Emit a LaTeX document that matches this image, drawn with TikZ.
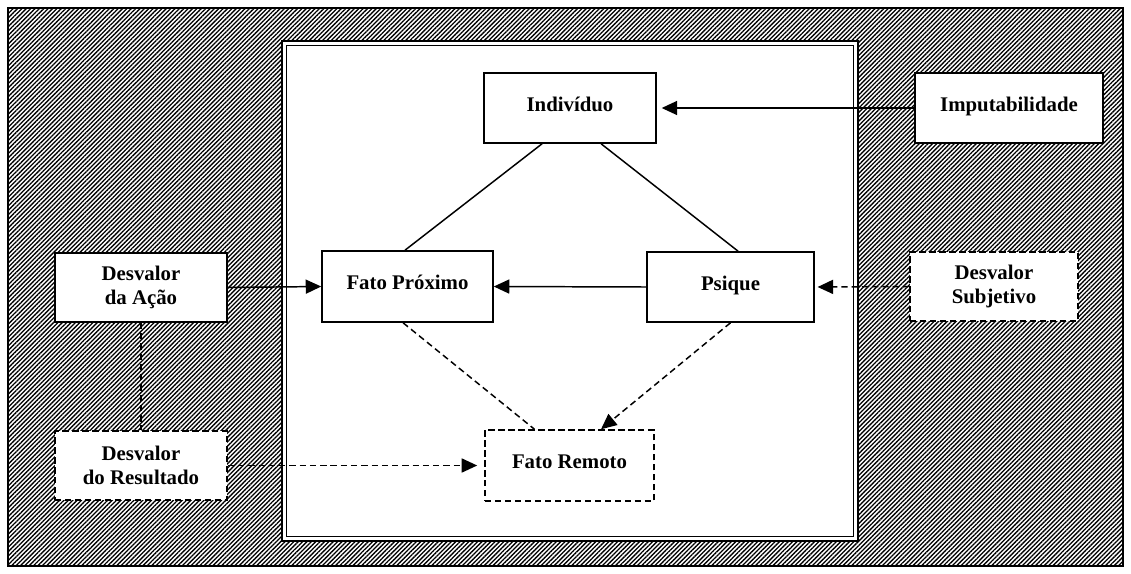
\documentclass[tikz,border=0pt]{standalone}
\usepackage{fontspec}
\setmainfont{Liberation Serif}
\usepackage{tikz}
\usetikzlibrary{arrows.meta,patterns.meta}

\begin{document}
\begin{tikzpicture}[x=0.025cm,y=-0.025cm,font=\fontsize{14.8}{17}\selectfont\bfseries,
  caixa/.style={draw,fill=white,line width=1.1pt,inner sep=0pt,align=center},
  tracejada/.style={caixa,dash pattern=on 4.5pt off 2.6pt},
  uma/.style={text height=0.75em,text depth=0.3em},
  liga/.style={line width=1.05pt},
  pont/.style={liga,dash pattern=on 4.5pt off 2.8pt},
  seta/.style={-{Triangle[length=11pt,width=10pt]}}]
  \useasboundingbox (0,0) rectangle (1131,573);
  % fundo hachurado e moldura
  \draw[line width=0.9pt,pattern={Lines[angle=45,distance=2.2pt,line width=0.95pt]}]
    (8,8) rectangle (1123,566);
  \draw[line width=2pt,fill=white] (282,41) rectangle (858,541);
  \draw[line width=1pt] (286.5,45.5) rectangle (853.5,536.5);
  % caixas
  \node[caixa,uma,minimum width=4.3cm,minimum height=1.75cm] (indiv) at (570,108) {Indivíduo};
  \node[caixa,uma,minimum width=4.7cm,minimum height=1.75cm] (imput) at (1009,108) {Imputabilidade};
  \node[caixa,minimum width=4.3cm,minimum height=1.725cm] (acao) at (141,287.5) {Desvalor\\da Ação};
  \node[caixa,uma,minimum width=4.275cm,minimum height=1.775cm] (proximo) at (407.5,286.5) {Fato Próximo};
  \node[caixa,uma,minimum width=4.175cm,minimum height=1.75cm] (psique) at (730.5,287) {Psique};
  \node[tracejada,minimum width=4.2cm,minimum height=1.725cm] (subj) at (994,286.5) {Desvalor\\Subjetivo};
  \node[tracejada,minimum width=4.3cm,minimum height=1.725cm] (resultado) at (141,465.5) {Desvalor\\do Resultado};
  \node[tracejada,uma,minimum width=4.225cm,minimum height=1.775cm] (remoto) at (569.5,465.5) {Fato Remoto};
  % ligacoes
  \draw[liga] (indiv.232) -- (proximo.94);
  \draw[liga] (indiv.311) -- (psique.78);
  \draw[liga,seta,shorten >=3.5pt] (imput.west) -- (indiv.east);
  \draw[liga,seta] (acao.east) -- (proximo.west);
  \draw[liga,seta] (psique.west) -- (proximo.east);
  \draw[pont,seta,shorten >=2pt] (subj.west) -- (psique.east);
  \draw[pont] (acao.south) -- (resultado.north);
  \draw[pont,seta,shorten >=5pt] (resultado.east) -- (remoto.west);
  \draw[pont] (proximo.263) -- (remoto.134);
  \draw[pont,seta] (psique.south) -- (remoto.49);
\end{tikzpicture}
\end{document}
